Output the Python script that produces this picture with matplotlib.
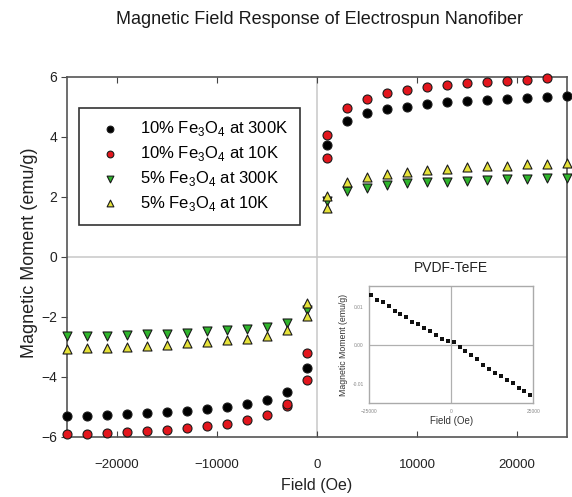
import matplotlib
matplotlib.use('Agg')
import matplotlib.pyplot as plt

plt.rcParams['font.family'] = ['Liberation Sans', 'DejaVu Sans']
plt.rcParams['mathtext.fontset'] = 'custom'
plt.rcParams['mathtext.rm'] = 'Liberation Sans'

# 10% Fe3O4 at 300K
field_10_300 = [-25000, -23000, -21000, -19000, -17000, -15000, -13000, -11000, -9000, -7000, -5000, -3000, -1000,
                1000, 3000, 5000, 7000, 9000, 11000, 13000, 15000, 17000, 19000, 21000, 23000, 25000]
moment_10_300 = [-5.32, -5.30, -5.28, -5.25, -5.22, -5.19, -5.14, -5.08, -5.00, -4.90, -4.78, -4.52, -3.71,
                 3.72, 4.53, 4.79, 4.92, 5.00, 5.09, 5.16, 5.20, 5.24, 5.27, 5.30, 5.32, 5.35]

# 10% Fe3O4 at 10K
field_10_10 = [-25000, -23000, -21000, -19000, -17000, -15000, -13000, -11000, -9000, -7000, -5000, -3000, -3000,
               -1000, -1000, 1000, 1000, 3000, 5000, 7000, 9000, 11000, 13000, 15000, 17000, 19000, 21000, 23000]
moment_10_10 = [-5.91, -5.91, -5.88, -5.86, -5.83, -5.78, -5.73, -5.66, -5.57, -5.46, -5.29, -4.99, -4.93,
                -4.10, -3.20, 3.30, 4.08, 4.98, 5.28, 5.48, 5.58, 5.67, 5.74, 5.79, 5.84, 5.88, 5.90, 5.95]

# 5% Fe3O4 at 300K
field_5_300 = [-25000, -23000, -21000, -19000, -17000, -15000, -13000, -11000, -9000, -7000, -5000, -3000, -1000,
               1000, 3000, 5000, 7000, 9000, 11000, 13000, 15000, 17000, 19000, 21000, 23000, 25000]
moment_5_300 = [-2.66, -2.65, -2.64, -2.62, -2.59, -2.57, -2.54, -2.49, -2.46, -2.41, -2.35, -2.21, -1.79,
                1.85, 2.18, 2.31, 2.38, 2.45, 2.48, 2.50, 2.53, 2.56, 2.58, 2.59, 2.62, 2.64]

# 5% Fe3O4 at 10K
field_5_10 = [-25000, -23000, -21000, -19000, -17000, -15000, -13000, -11000, -9000, -7000, -5000, -3000, -1000,
              -1000, 1000, 1000, 3000, 5000, 7000, 9000, 11000, 13000, 15000, 17000, 19000, 21000, 23000, 25000]
moment_5_10 = [-3.09, -3.06, -3.03, -3.00, -2.97, -2.94, -2.89, -2.85, -2.79, -2.74, -2.65, -2.46, -1.98,
               -1.56, 1.62, 2.02, 2.49, 2.67, 2.76, 2.82, 2.88, 2.93, 2.98, 3.02, 3.04, 3.08, 3.10, 3.13]

# PVDF-TeFE inset
field_pvdf = [-24500, -22700, -20900, -19100, -17300, -15500, -13700, -11900, -10100, -8300, -6500, -4700, -2900,
              -1100, 700, 2500, 4300, 6100, 7900, 9700, 11500, 13300, 15100, 16900, 18700, 20500, 22300, 24100]
moment_pvdf = [0.0132, 0.0119, 0.0113, 0.0104, 0.0091, 0.0082, 0.0073, 0.0062, 0.0055, 0.0045, 0.0038, 0.0028,
               0.0018, 0.0011, 0.0009, -0.0003, -0.0014, -0.0026, -0.0035, -0.0050, -0.0062, -0.0072, -0.0080,
               -0.0090, -0.0099, -0.0110, -0.0119, -0.0130]

x_ticks = [-20000, -10000, 0, 10000, 20000]
y_ticks = [-6, -4, -2, 0, 2, 4, 6]

fig = plt.figure(figsize=(5.72, 4.97), dpi=100)
ax = fig.add_axes([0.1171, 0.1217, 0.8742, 0.7234])

ax.axhline(0, color='#c8c8c8', linewidth=1.1, zorder=0)
ax.axvline(0, color='#c8c8c8', linewidth=1.1, zorder=0)

series = [
    (field_10_300, moment_10_300, 'o', '#000000', '10% Fe$_3$O$_4$ at 300K'),
    (field_10_10, moment_10_10, 'o', '#e3161d', '10% Fe$_3$O$_4$ at 10K'),
    (field_5_300, moment_5_300, 'v', '#2fb52c', '5% Fe$_3$O$_4$ at 300K'),
    (field_5_10, moment_5_10, '^', '#e6e23a', '5% Fe$_3$O$_4$ at 10K'),
]
for xs, ys, marker, color, label in series:
    ax.scatter(xs, ys, s=42, marker=marker, facecolor=color, edgecolor='#1a1a1a',
               linewidth=0.8, label=label, clip_on=False, zorder=3)

ax.set_xlim(-25000, 25000)
ax.set_ylim(-6, 6)
ax.set_xticks(x_ticks)
ax.set_yticks(y_ticks)
ax.tick_params(axis='x', direction='in', top=True, length=4, pad=16, labelsize=9.5, colors='#444444',
               labelcolor='#222222')
ax.tick_params(axis='y', direction='out', length=4, pad=3, labelsize=10, colors='#444444',
               labelcolor='#222222')
for sp in ax.spines.values():
    sp.set_color('#555555')
    sp.set_linewidth(1.2)

ax.set_xlabel('Field (Oe)', fontsize=11.5, color='#222222', labelpad=5)
ax.set_ylabel('Magnetic Moment (emu/g)', fontsize=13, color='#222222')
ax.yaxis.set_label_coords(-0.057, 0.51)

leg = ax.legend(loc='upper left', bbox_to_anchor=(0.0246, 0.9146), borderaxespad=0, fontsize=12,
                markerscale=0.75, fancybox=False, framealpha=1, borderpad=0.7, handlelength=2.3,
                handletextpad=0.65, labelspacing=0.35)
leg.get_frame().set_edgecolor('#333333')
leg.get_frame().set_linewidth(1.2)

fig.text(320 / 572, 1 - 19 / 497, 'Magnetic Field Response of Electrospun Nanofiber',
         ha='center', va='center', fontsize=13, color='#1a1a1a')

# inset
ins = fig.add_axes([0.6457, 0.1891, 0.2867, 0.2354])
ins.axhline(0, color='#b0b0b0', linewidth=0.9, zorder=0)
ins.axvline(0, color='#b0b0b0', linewidth=0.9, zorder=0)
ins.scatter(field_pvdf, moment_pvdf, s=6, marker='s', color='#111111', linewidth=0, zorder=3)
ins.set_xlim(-25000, 25000)
ins.set_ylim(-0.015, 0.0155)
ins.set_xticks([-25000, 0, 25000])
ins.set_yticks([-0.01, 0.0, 0.01])
ins.set_yticklabels(['-0.01', '0.00', '0.01'])
ins.tick_params(length=0, labelsize=3.5, labelcolor='#888888', pad=4)
for sp in ins.spines.values():
    sp.set_color('#aaaaaa')
    sp.set_linewidth(1.0)
ins.set_xlabel('Field (Oe)', fontsize=7, color='#333333', labelpad=2)
ins.set_ylabel('Magnetic Moment (emu/g)', fontsize=6.3, color='#333333', labelpad=3)
ins.set_title('PVDF-TeFE', fontsize=10, color='#222222', pad=10)

fig.savefig('out.png', dpi=100)
